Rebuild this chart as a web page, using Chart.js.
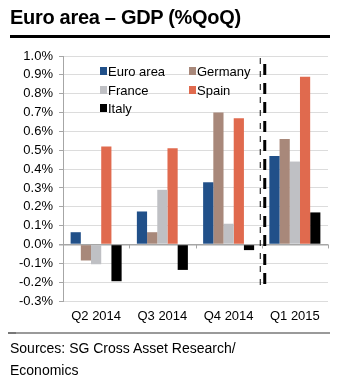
<!DOCTYPE html>
<html>
<head>
<meta charset="utf-8">
<script src="https://cdn.jsdelivr.net/npm/chart.js@4/dist/chart.umd.min.js"></script>
<style>
  body { margin: 0; background: #fff; font-family: "Liberation Sans", Arial, sans-serif; }
  #wrap { position: relative; width: 347px; height: 391px; overflow: hidden; }
  #title { position: absolute; left: 10px; top: 6px; font-size: 20px; font-weight: bold; letter-spacing: -0.3px; color: #000; }
  #rule { position: absolute; left: 10px; top: 35px; width: 320px; height: 3px; background: #000; }
  #chartBox { position: absolute; left: 0; top: 0; width: 347px; height: 391px; }
  #foot { position: absolute; left: 8px; top: 332px; width: 322px; height: 2px; background: #9a9a9a; }
  #foot2 { position: absolute; left: 8px; top: 332px; width: 8px; height: 2px; background: #777; }
  #sources { position: absolute; left: 10px; top: 337px; font-size: 14px; line-height: 22px; color: #000; }
</style>
</head>
<body>
<div id="wrap">
  <div id="chartBox"><canvas id="chartBars" width="347" height="391"></canvas></div>
  <div id="title">Euro area – GDP (%QoQ)</div>
  <div id="rule"></div>
  <div id="foot"></div><div id="foot2"></div>
  <div id="sources">Sources: SG Cross Asset Research/<br>Economics</div>
</div>
<script>
const quarters = ["Q2 2014", "Q3 2014", "Q4 2014", "Q1 2015"];
const euroArea = [0.065, 0.175, 0.33, 0.47];
const germany = [-0.085, 0.065, 0.70, 0.56];
const france = [-0.105, 0.29, 0.11, 0.44];
const spain = [0.52, 0.51, 0.67, 0.89];
const italy = [-0.195, -0.135, -0.03, 0.17];

const seriesNames = ["Euro area", "Germany", "France", "Spain", "Italy"];
const seriesColors = ["#215089", "#A8887A", "#BFC0C4", "#E06A4E", "#000000"];
const seriesValues = [euroArea, germany, france, spain, italy];

const yMin = -0.3;
const yMax = 1.0;

// legend drawn inside the plot, two columns like the original
const legendInside = {
    id: "legendInside",
    afterDraw(chart) {
        const ctx = chart.ctx
        const area = chart.chartArea
        const cols = [area.left + 37, area.left + 126]
        const rows = [area.top + 15, area.top + 34, area.top + 52]
        ctx.save()
        ctx.font = "13px 'Liberation Sans', Arial, sans-serif"
        ctx.textBaseline = "middle"
        seriesNames.forEach((name, i) => {
            const x = cols[i % 2]
            const y = rows[Math.floor(i / 2)]
            ctx.fillStyle = seriesColors[i]
            ctx.fillRect(x, y - 4, 7, 8)
            ctx.fillStyle = "#000"
            ctx.fillText(name, x + 8, y + 1)
        })
        ctx.restore()
    }
};

// zero line ticks between categories + dashed separator before Q1 2015
const extras = {
    id: "extras",
    afterDatasetsDraw(chart) {
        const ctx = chart.ctx
        const xs = chart.scales.x
        const ys = chart.scales.y
        const zero = ys.getPixelForValue(0)
        ctx.save()
        ctx.strokeStyle = "#a6a6a6"
        ctx.lineWidth = 1
        for (let i = 0; i <= quarters.length; i++) {
            const x = Math.round(xs.getPixelForValue(i - 0.5)) + 0.5
            ctx.beginPath()
            ctx.moveTo(x, zero)
            ctx.lineTo(x, zero + 4)
            ctx.stroke()
        }
        const sep = xs.getPixelForValue(2.5)
        const top = chart.chartArea.top + 2
        const bottom = ys.getPixelForValue(-0.25)
        ctx.strokeStyle = "#000"
        ctx.lineWidth = 1
        ctx.setLineDash([6, 7])
        ctx.beginPath()
        ctx.moveTo(sep - 1.5, top)
        ctx.lineTo(sep - 1.5, bottom)
        ctx.stroke()
        ctx.lineWidth = 3
        ctx.setLineDash([11, 8])
        ctx.lineDashOffset = -4
        ctx.beginPath()
        ctx.moveTo(sep + 3, top + 2)
        ctx.lineTo(sep + 3, bottom)
        ctx.stroke()
        ctx.restore()
    }
};

const dataBars = {
    labels: quarters,
    datasets: seriesNames.map((name, i) => ({
        label: name,
        data: seriesValues[i],
        backgroundColor: seriesColors[i],
        borderWidth: 0,
        categoryPercentage: 0.77,
        barPercentage: 1.0
    }))
};

const configBars = {
    type: "bar",
    data: dataBars,
    options: {
        responsive: false,
        animation: false,
        layout: {
            padding: { top: 56, bottom: 60, left: 0, right: 19 }
        },
        plugins: {
            legend: { display: false },
            tooltip: { enabled: false }
        },
        scales: {
            x: {
                grid: { display: false, drawTicks: false },
                border: { display: false },
                ticks: {
                    color: "#000",
                    padding: 8,
                    font: { family: "'Liberation Sans', Arial, sans-serif", size: 13 }
                },
                afterFit: (s) => { s.height = 30 }
            },
            y: {
                min: yMin,
                max: yMax,
                border: { display: true, color: "#a6a6a6", width: 1 },
                grid: {
                    color: (c) => c.tick && Math.abs(c.tick.value) < 1e-9 ? "#a6a6a6" : "#dcdcdc",
                    lineWidth: (c) => c.tick && Math.abs(c.tick.value) < 1e-9 ? 1.5 : 1,
                    tickColor: "#a6a6a6",
                    tickLength: 4
                },
                ticks: {
                    stepSize: 0.1,
                    color: "#000",
                    padding: 6,
                    font: { family: "'Liberation Sans', Arial, sans-serif", size: 13 },
                    callback: (v) => (Math.round(v * 10) / 10).toFixed(1) + "%"
                },
                afterFit: (s) => { s.width = 63 }
            }
        }
    },
    plugins: [legendInside, extras]
};

var chartBars = new Chart(document.getElementById("chartBars"), configBars);
</script>
</body>
</html>
